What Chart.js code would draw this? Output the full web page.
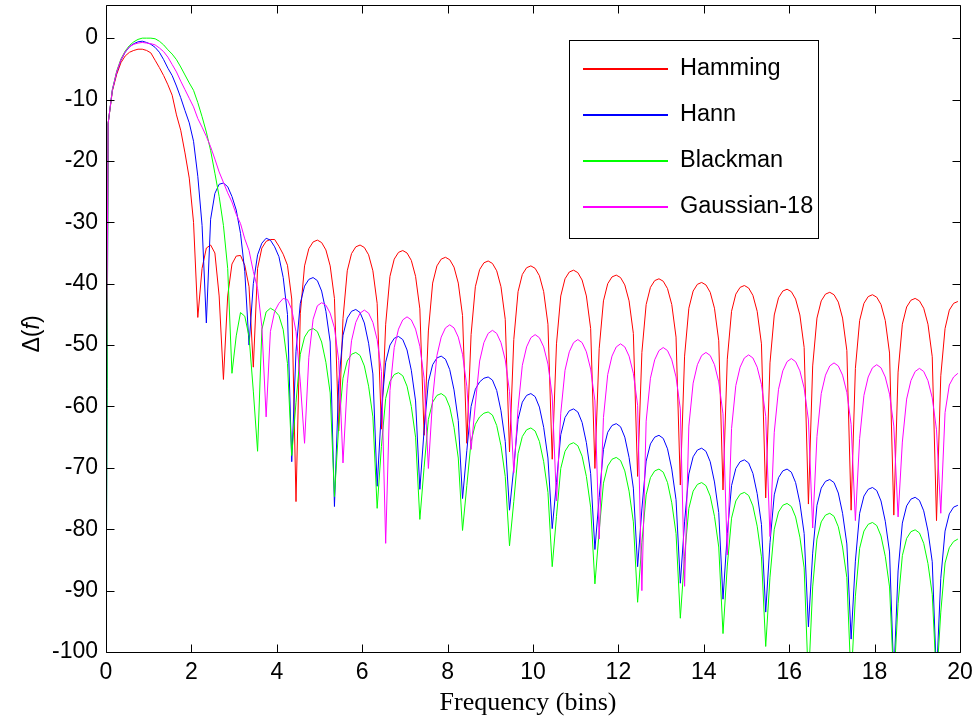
<!DOCTYPE html>
<html>
<head>
<meta charset="utf-8">
<script src="https://cdn.jsdelivr.net/npm/chart.js@4.4.0/dist/chart.umd.min.js"></script>
<style>
  html, body { margin: 0; padding: 0; background: #fff; }
  #wrap { width: 977px; height: 722px; }
</style>
</head>
<body>
<div id="wrap"><canvas id="chart" width="977" height="722"></canvas></div>
<script>
// frequency (bins) where the curves were sampled
const freqBins = [
  0, 0.05, 0.15, 0.25, 0.35, 0.45, 0.55, 0.65, 0.75, 0.85, 0.95,
  1.05, 1.15, 1.25, 1.35, 1.45, 1.55, 1.65, 1.75, 1.85, 1.95,
  2.05, 2.15, 2.25, 2.35, 2.45, 2.55, 2.65, 2.75, 2.85, 2.95,
  3.05, 3.15, 3.25, 3.35, 3.45, 3.55, 3.65, 3.75, 3.85, 3.95,
  4.05, 4.15, 4.25, 4.35, 4.45, 4.55, 4.65, 4.75, 4.85, 4.95,
  5.05, 5.15, 5.25, 5.35, 5.45, 5.55, 5.65, 5.75, 5.85, 5.95,
  6.05, 6.15, 6.25, 6.35, 6.45, 6.55, 6.65, 6.75, 6.85, 6.95,
  7.05, 7.15, 7.25, 7.35, 7.45, 7.55, 7.65, 7.75, 7.85, 7.95,
  8.05, 8.15, 8.25, 8.35, 8.45, 8.55, 8.65, 8.75, 8.85, 8.95,
  9.05, 9.15, 9.25, 9.35, 9.45, 9.55, 9.65, 9.75, 9.85, 9.95,
  10.05, 10.15, 10.25, 10.35, 10.45, 10.55, 10.65, 10.75, 10.85, 10.95,
  11.05, 11.15, 11.25, 11.35, 11.45, 11.55, 11.65, 11.75, 11.85, 11.95,
  12.05, 12.15, 12.25, 12.35, 12.45, 12.55, 12.65, 12.75, 12.85, 12.95,
  13.05, 13.15, 13.25, 13.35, 13.45, 13.55, 13.65, 13.75, 13.85, 13.95,
  14.05, 14.15, 14.25, 14.35, 14.45, 14.55, 14.65, 14.75, 14.85, 14.95,
  15.05, 15.15, 15.25, 15.35, 15.45, 15.55, 15.65, 15.75, 15.85, 15.95,
  16.05, 16.15, 16.25, 16.35, 16.45, 16.55, 16.65, 16.75, 16.85, 16.95,
  17.05, 17.15, 17.25, 17.35, 17.45, 17.55, 17.65, 17.75, 17.85, 17.95,
  18.05, 18.15, 18.25, 18.35, 18.45, 18.55, 18.65, 18.75, 18.85, 18.95,
  19.05, 19.15, 19.25, 19.35, 19.45, 19.55, 19.65, 19.75, 19.85, 19.95
];

const hamming = [
  -79, -13.9, -8.6, -5.9, -4.0, -2.9, -2.3, -2.0, -1.8, -1.8, -2.0,
  -2.4, -3.6, -4.8, -6.1, -7.6, -9.3, -12.5, -15.0, -18.7, -22.8,
  -30.0, -45.5, -37.5, -34.2, -33.7, -35.0, -42.0, -55.6, -42.0, -36.8,
  -35.5, -35.4, -37.0, -40.5, -53.6, -37.5, -34.2, -33.1, -32.8, -32.8,
  -33.9, -35.2, -37.0, -42.5, -75.5, -44.9, -37.1, -34.3, -33.2, -32.9,
  -33.3, -34.5, -37.1, -42.4, -64.0, -45.7, -37.9, -35.1, -34.0, -33.7,
  -34.1, -35.3, -37.9, -43.2, -63.7, -46.6, -38.8, -36.0, -34.9, -34.6,
  -35.0, -36.2, -38.8, -44.1, -64.7, -47.7, -39.9, -37.1, -36.0, -35.7,
  -36.1, -37.3, -39.9, -45.2, -66.0, -48.3, -40.5, -37.7, -36.6, -36.3,
  -36.7, -37.9, -40.5, -45.8, -67.4, -49.1, -41.3, -38.5, -37.4, -37.1,
  -37.5, -38.7, -41.3, -46.6, -68.6, -49.8, -42.0, -39.2, -38.1, -37.8,
  -38.2, -39.4, -42.0, -47.3, -70.1, -50.6, -42.8, -40.0, -38.9, -38.6,
  -39.0, -40.2, -42.8, -48.1, -71.4, -51.2, -43.4, -40.6, -39.5, -39.2,
  -39.6, -40.8, -43.4, -48.7, -72.8, -51.8, -44.0, -41.2, -40.1, -39.8,
  -40.2, -41.4, -44.0, -49.3, -73.6, -52.3, -44.5, -41.7, -40.6, -40.3,
  -40.7, -41.9, -44.5, -49.8, -74.9, -52.9, -45.1, -42.3, -41.2, -40.9,
  -41.3, -42.5, -45.1, -50.4, -75.9, -53.4, -45.6, -42.8, -41.7, -41.4,
  -41.8, -43.0, -45.6, -50.9, -76.9, -53.8, -46.0, -43.2, -42.1, -41.8,
  -42.2, -43.4, -46.0, -51.3, -77.7, -54.4, -46.6, -43.8, -42.7, -42.4,
  -42.8, -44.0, -46.6, -51.9, -78.6, -55.0, -47.3, -44.3, -43.2, -42.9
];

const hann = [
  -101, -13.9, -8.4, -5.6, -3.6, -2.3, -1.4, -0.9, -0.6, -0.5, -0.7,
  -1.0, -1.5, -2.3, -3.5, -4.9, -6.1, -7.8, -9.7, -11.8, -13.8,
  -16.8, -22.5, -30.5, -46.4, -29.5, -25.3, -23.8, -23.6, -24.2, -25.8,
  -28.0, -31.8, -38.0, -50.0, -40.0, -35.3, -33.4, -32.6, -32.9, -34.0,
  -35.6, -39.0, -45.0, -69.0, -51.0, -43.2, -40.4, -39.3, -39.0, -39.5,
  -41.2, -44.5, -49.5, -76.3, -56.2, -48.4, -45.6, -44.5, -44.2, -44.7,
  -46.4, -49.7, -54.7, -73.0, -60.6, -52.8, -50.0, -48.9, -48.6, -49.1,
  -50.8, -54.1, -59.1, -73.5, -63.8, -56.0, -53.2, -52.1, -51.8, -52.3,
  -54.0, -57.3, -62.3, -75.0, -67.2, -60.0, -57.2, -56.0, -55.4, -55.2,
  -55.7, -57.4, -60.7, -65.7, -76.9, -69.9, -62.1, -59.3, -58.2, -57.9,
  -58.4, -60.1, -63.4, -68.4, -79.9, -72.4, -64.6, -61.8, -60.7, -60.4,
  -60.9, -62.6, -65.9, -70.9, -83.3, -74.8, -67.0, -64.2, -63.1, -62.8,
  -63.3, -65.0, -68.3, -73.3, -86.1, -76.7, -68.9, -66.1, -65.0, -64.7,
  -65.2, -66.9, -70.2, -75.2, -88.8, -78.8, -71.0, -68.2, -67.1, -66.8,
  -67.3, -69.0, -72.3, -77.3, -91.4, -80.7, -72.9, -70.1, -69.0, -68.7,
  -69.2, -70.9, -74.2, -79.2, -93.5, -82.2, -74.4, -71.6, -70.5, -70.2,
  -70.7, -72.4, -75.7, -80.7, -95.9, -83.9, -76.1, -73.3, -72.2, -71.9,
  -72.4, -74.1, -77.4, -82.4, -97.9, -85.2, -77.4, -74.6, -73.5, -73.2,
  -73.7, -75.4, -78.7, -83.7, -104, -86.8, -79.0, -76.2, -75.1, -74.8,
  -75.3, -77.0, -80.3, -85.3, -104, -88.0, -80.3, -77.5, -76.4, -76.1
];

const blackman = [
  -102, -13.9, -8.4, -5.4, -3.4, -2.1, -1.2, -0.6, -0.2, 0.0, 0.0,
  0.0, -0.1, -0.5, -1.1, -1.9, -2.6, -3.5, -4.7, -6.0, -7.3,
  -8.5, -10.5, -12.8, -15.3, -18.3, -22.0, -25.8, -30.5, -37.5, -54.6,
  -48.5, -44.7, -45.3, -48.6, -57.5, -67.3, -47.5, -44.6, -44.0, -44.4,
  -45.2, -47.5, -53.0, -68.0, -59.3, -51.5, -48.7, -47.6, -47.3, -47.8,
  -49.5, -52.8, -57.8, -74.7, -63.2, -55.4, -52.6, -51.5, -51.2, -51.7,
  -53.4, -56.7, -61.7, -76.6, -66.5, -58.7, -55.9, -54.8, -54.5, -55.0,
  -56.7, -60.0, -65.0, -78.4, -69.9, -62.1, -59.3, -58.2, -57.9, -58.4,
  -60.1, -63.4, -68.4, -80.2, -72.9, -65.7, -62.9, -61.7, -61.1, -60.9,
  -61.4, -63.1, -66.4, -71.4, -82.7, -75.5, -67.7, -64.9, -63.8, -63.5,
  -64.0, -65.7, -69.0, -74.0, -86.1, -77.9, -70.1, -67.3, -66.2, -65.9,
  -66.4, -68.1, -71.4, -76.4, -88.9, -80.3, -72.5, -69.7, -68.6, -68.3,
  -68.8, -70.5, -73.8, -78.8, -91.9, -82.2, -74.4, -71.6, -70.5, -70.2,
  -70.7, -72.4, -75.7, -80.7, -94.5, -84.4, -76.6, -73.8, -72.7, -72.4,
  -72.9, -74.6, -77.9, -82.9, -97.0, -86.0, -78.2, -75.4, -74.3, -74.0,
  -74.5, -76.2, -79.5, -84.5, -99.1, -87.8, -80.0, -77.2, -76.1, -75.8,
  -76.3, -78.0, -81.3, -86.3, -105, -89.4, -81.6, -78.8, -77.7, -77.4,
  -77.9, -79.6, -82.9, -87.9, -105, -90.9, -83.1, -80.3, -79.2, -78.9,
  -79.4, -81.1, -84.4, -89.4, -105, -92.1, -84.3, -81.5, -80.4, -80.1,
  -80.6, -82.3, -85.6, -90.6, -105, -93.5, -85.5, -83.0, -82.0, -81.6
];

const gaussian18 = [
  -67, -13.9, -8.4, -5.5, -3.5, -2.2, -1.4, -1.0, -0.8, -0.7, -0.8,
  -0.9, -1.1, -1.6, -2.2, -3.1, -4.3, -5.5, -7.0, -8.4, -9.8,
  -11.2, -13.1, -14.5, -16.0, -17.7, -19.7, -21.8, -23.5, -25.2, -26.7,
  -28.7, -30.2, -32.7, -34.6, -38.0, -40.8, -47.0, -61.7, -47.8, -44.5,
  -43.2, -42.4, -42.6, -44.2, -47.8, -56.0, -66.0, -52.0, -45.8, -43.6,
  -43.1, -43.5, -44.8, -47.2, -52.5, -69.2, -56.3, -49.3, -46.3, -44.8,
  -44.3, -44.8, -46.3, -49.1, -54.3, -82.3, -57.4, -50.4, -47.4, -45.9,
  -45.4, -45.9, -47.4, -50.2, -55.4, -70.1, -58.7, -51.7, -48.7, -47.2,
  -46.7, -47.2, -48.7, -51.5, -56.7, -67.0, -59.6, -52.6, -49.6, -48.1,
  -47.6, -48.1, -49.6, -52.4, -57.6, -70.8, -60.3, -53.3, -50.3, -48.8,
  -48.3, -48.8, -50.3, -53.1, -58.3, -75.4, -61.1, -54.1, -51.1, -49.6,
  -49.1, -49.6, -51.1, -53.9, -59.1, -81.6, -61.8, -54.8, -51.8, -50.3,
  -49.8, -50.3, -51.8, -54.6, -59.8, -90.0, -62.4, -55.4, -52.4, -50.9,
  -50.4, -50.9, -52.4, -55.2, -60.4, -89.3, -63.2, -56.2, -53.2, -51.7,
  -51.2, -51.7, -53.2, -56.0, -61.2, -84.2, -63.6, -56.6, -53.6, -52.1,
  -51.6, -52.1, -53.6, -56.4, -61.6, -81.2, -64.2, -57.2, -54.2, -52.7,
  -52.2, -52.7, -54.2, -57.0, -62.2, -79.8, -64.9, -57.9, -54.9, -53.4,
  -52.9, -53.4, -54.9, -57.7, -62.9, -78.6, -65.2, -58.2, -55.2, -53.7,
  -53.2, -53.7, -55.2, -58.0, -63.2, -78.0, -65.8, -58.8, -55.8, -54.3,
  -53.8, -54.3, -55.8, -58.6, -63.8, -77.4, -61.0, -56.5, -55.2, -54.6
];

const seriesNames = ['Hamming', 'Hann', 'Blackman', 'Gaussian-18'];
const seriesColors = ['#ff0000', '#0000ff', '#00ff00', '#ff00ff'];
const seriesValues = [hamming, hann, blackman, gaussian18];

const xTicks = [0, 2, 4, 6, 8, 10, 12, 14, 16, 18, 20];
const yTicks = [0, -10, -20, -30, -40, -50, -60, -70, -80, -90, -100];

const tickFont = { family: 'Liberation Sans, Arial, sans-serif', size: 23 };

function toPoints(values) {
  return freqBins.map((f, i) => ({ x: f, y: values[i] }));
}

// frame with inward ticks (matlab style), legend box and axis titles
const matlabFrame = {
  id: 'matlabFrame',
  afterDatasetsDraw(chart) {
    const { ctx, chartArea: a, scales } = chart;
    const xs = scales.x, ys = scales.y;
    const L = Math.round(a.left) + 0.5, R = Math.round(a.right) + 0.5;
    const T = Math.round(a.top) + 0.5, B = Math.round(a.bottom) + 0.5;

    ctx.save();
    ctx.strokeStyle = '#000';
    ctx.lineWidth = 1;
    ctx.beginPath();
    ctx.rect(L, T, R - L, B - T);
    xTicks.forEach(v => {
      const px = Math.round(xs.getPixelForValue(v)) + 0.5;
      ctx.moveTo(px, B); ctx.lineTo(px, B - 8);
      ctx.moveTo(px, T); ctx.lineTo(px, T + 8);
    });
    yTicks.forEach(v => {
      const py = Math.round(ys.getPixelForValue(v)) + 0.5;
      ctx.moveTo(L, py); ctx.lineTo(L + 8, py);
      ctx.moveTo(R, py); ctx.lineTo(R - 8, py);
    });
    ctx.stroke();

    // legend
    ctx.fillStyle = '#fff';
    ctx.fillRect(569, 40, 250, 199);
    ctx.strokeStyle = '#000';
    ctx.strokeRect(569.5, 40.5, 249, 198);
    const rowY = [68, 114, 160, 206];
    ctx.font = '23.5px "Liberation Sans", Arial, sans-serif';
    ctx.textBaseline = 'middle';
    ctx.textAlign = 'left';
    seriesNames.forEach((name, i) => {
      ctx.fillStyle = seriesColors[i];
      ctx.fillRect(583, rowY[i], 85, 2);
      ctx.fillStyle = '#000';
      ctx.fillText(name, 680, rowY[i] + 1);
    });

    // x title
    ctx.fillStyle = '#000';
    ctx.font = '26px "Liberation Serif", "Times New Roman", serif';
    ctx.textAlign = 'center';
    ctx.textBaseline = 'middle';
    ctx.fillText('Frequency (bins)', 528, 703);

    // y title: Δ(f) with italic f
    ctx.translate(33, 334);
    ctx.rotate(-Math.PI / 2);
    const up = '23px "Liberation Sans", Arial, sans-serif';
    const it = 'italic 23px "Liberation Sans", Arial, sans-serif';
    const parts = [['Δ(', up], ['f', it], [')', up]];
    let total = 0;
    parts.forEach(p => { ctx.font = p[1]; total += ctx.measureText(p[0]).width; });
    let cx = -total / 2;
    ctx.textAlign = 'left';
    parts.forEach(p => {
      ctx.font = p[1];
      ctx.fillText(p[0], cx, 0);
      cx += ctx.measureText(p[0]).width;
    });
    ctx.restore();
  }
};

const ctx = document.getElementById('chart').getContext('2d');
new Chart(ctx, {
  type: 'line',
  data: {
    datasets: seriesNames.map((name, i) => ({
      label: name,
      data: toPoints(seriesValues[i]),
      borderColor: seriesColors[i],
      backgroundColor: seriesColors[i],
      borderWidth: 1,
      pointRadius: 0,
      tension: 0,
      fill: false,
      order: seriesNames.length - i
    }))
  },
  options: {
    responsive: false,
    animation: false,
    devicePixelRatio: 1,
    layout: { padding: { top: 5, right: 17, left: 0, bottom: 0 } },
    plugins: { legend: { display: false }, tooltip: { enabled: false } },
    scales: {
      x: {
        type: 'linear',
        min: 0,
        max: 20,
        afterBuildTicks: s => { s.ticks = xTicks.map(v => ({ value: v })); },
        afterFit: s => { s.height = 70; s.paddingLeft = 0; s.paddingRight = 0; },
        grid: { display: false, drawTicks: false },
        border: { display: false },
        ticks: { font: tickFont, color: '#000', padding: 7, maxRotation: 0, autoSkip: false }
      },
      y: {
        type: 'linear',
        min: -100,
        max: 5.4,
        afterBuildTicks: s => { s.ticks = yTicks.map(v => ({ value: v })); },
        afterFit: s => { s.width = 106; s.paddingTop = 0; s.paddingBottom = 0; },
        grid: { display: false, drawTicks: false },
        border: { display: false },
        ticks: { font: tickFont, color: '#000', padding: 8, autoSkip: false }
      }
    }
  },
  plugins: [matlabFrame]
});
</script>
</body>
</html>
